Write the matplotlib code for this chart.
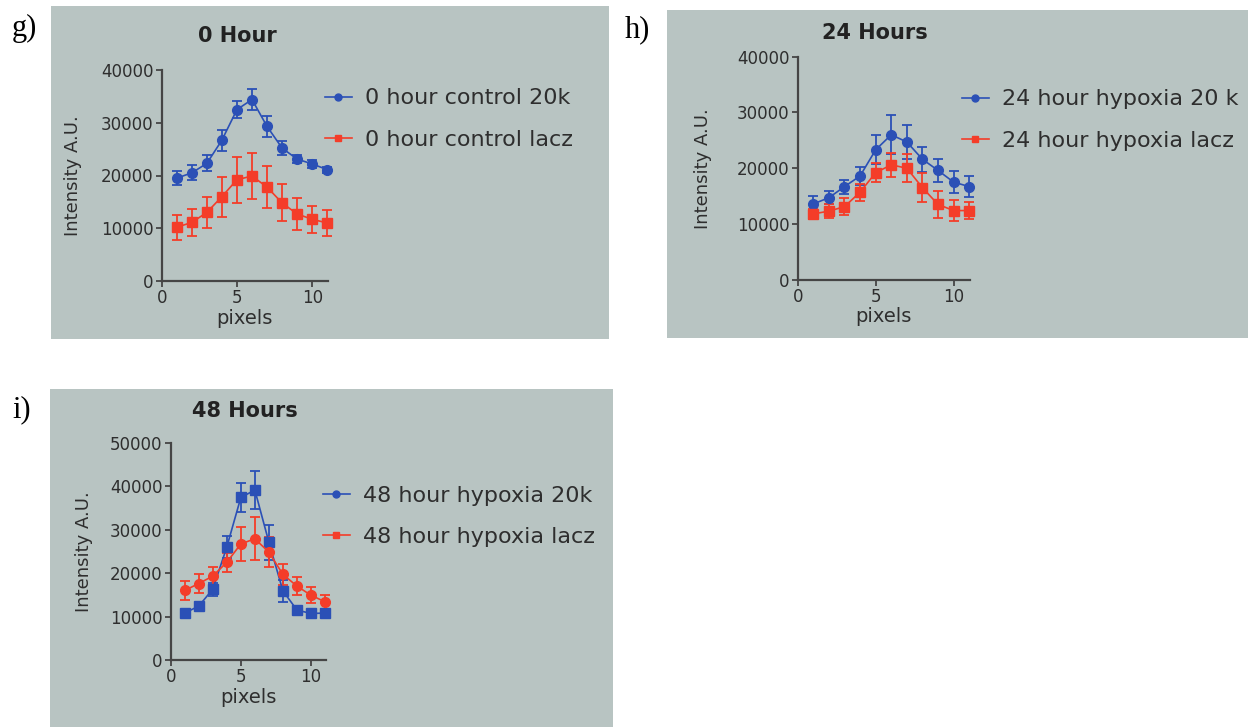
import matplotlib
matplotlib.use("Agg")
import matplotlib.pyplot as plt
from matplotlib.patches import Rectangle
from matplotlib.lines import Line2D

W, H = 1248, 727

pixels = [1, 2, 3, 4, 5, 6, 7, 8, 9, 10, 11]

# 0 hour
g_blue = [19500, 20500, 22300, 26700, 32500, 34400, 29300, 25200, 23100, 22200, 21100]
g_blue_err = [1300, 1400, 1500, 2000, 1600, 2000, 2000, 1400, 700, 800, 600]
g_red = [10200, 11100, 13000, 16000, 19200, 19900, 17800, 14800, 12700, 11700, 11000]
g_red_err = [2400, 2600, 3000, 3800, 4400, 4400, 4000, 3500, 3000, 2600, 2400]

# 24 hours
h_blue = [13600, 14700, 16700, 18600, 23300, 26000, 24700, 21600, 19600, 17500, 16700]
h_blue_err = [1350, 1200, 1250, 1600, 2600, 3500, 3000, 2200, 2000, 1950, 1900]
h_red = [11800, 12300, 13100, 15700, 19200, 20600, 20000, 16500, 13500, 12400, 12400]
h_red_err = [900, 1250, 1500, 1550, 1700, 2200, 2500, 2600, 2400, 1900, 1500]

# 48 hours
i_blue = [10800, 12400, 16300, 26000, 37400, 39100, 27100, 15900, 11500, 10700, 10800]
i_blue_err = [300, 500, 1500, 2500, 3400, 4300, 4000, 2500, 1000, 400, 400]
i_red = [16000, 17600, 19300, 22500, 26700, 27900, 24800, 19700, 17000, 14900, 13400]
i_red_err = [2200, 2100, 2000, 2200, 3900, 4900, 3400, 2500, 2000, 1800, 1600]

BG = "#b8c4c2"
BLUE = "#2b50b6"
RED = "#f43d29"
AX = "#454545"
TXT = "#2e2e2e"


def fx(px):
    return px / W


def fy(py):
    return 1 - py / H


fig = plt.figure(figsize=(W / 100, H / 100), dpi=100)
fig.patch.set_facecolor("white")


def panel(box, axbox, ymax, ystep, title, tpos, label, lpos, ylab_x,
          series, leg_labels, leg_markers, leg_pos):
    x0, y0, x1, y1 = box
    fig.patches.append(Rectangle((fx(x0), fy(y1)), fx(x1 - x0), (y1 - y0) / H,
                                 transform=fig.transFigure, facecolor=BG,
                                 edgecolor="none", zorder=-5))
    l, t, r, b = axbox
    ax = fig.add_axes([fx(l), fy(b), fx(r - l), (b - t) / H])
    ax.set_zorder(2)
    ax.patch.set_alpha(0)
    for y, err, col, mk, ms in series:
        ax.errorbar(pixels, y, yerr=err, color=col, marker=mk, ms=ms,
                    lw=1.2, elinewidth=1.3, capsize=3.5, capthick=1.3,
                    clip_on=False, zorder=3)
    ax.set_xlim(0, 11.05)
    ax.set_ylim(0, ymax)
    ax.set_xticks([0, 5, 10])
    ax.set_yticks(range(0, ymax + 1, ystep))
    for s in ["top", "right"]:
        ax.spines[s].set_visible(False)
    for s in ["left", "bottom"]:
        ax.spines[s].set_color(AX)
        ax.spines[s].set_linewidth(1.6)
    ax.tick_params(colors=AX, labelcolor=TXT, labelsize=12, length=4,
                   width=1.3, pad=2)
    ax.set_xlabel("pixels", fontsize=14, color=TXT, labelpad=1)
    ax.set_ylabel("Intensity A.U.", fontsize=13, color=TXT)
    ax.yaxis.set_label_coords(fx(ylab_x), fy((t + b) / 2),
                              transform=fig.transFigure)
    fig.text(fx(tpos[0]), fy(tpos[1]), title, ha="center", va="baseline",
             fontsize=15, fontweight="bold", color="#222222")
    fig.text(fx(lpos[0]), fy(lpos[1]), label, ha="left", va="baseline",
             fontsize=22, family="Liberation Serif", color="black")
    handles = [Line2D([0], [0], color=c, marker=m, ms=5, lw=1.2)
               for c, m in zip([BLUE, RED], leg_markers)]
    ax.legend(handles, leg_labels, loc="center left",
              bbox_to_anchor=(fx(leg_pos[0]), fy(leg_pos[1])),
              bbox_transform=fig.transFigure, frameon=False, fontsize=16,
              labelcolor=TXT, handlelength=1.2, handletextpad=0.6,
              labelspacing=0.95, borderpad=0, borderaxespad=0)
    return ax


panel((51, 6, 609, 339), (161.7, 70, 328, 281), 40000, 10000,
      "0 Hour", (237, 42), "g)", (12, 36), 82,
      [(g_blue, g_blue_err, BLUE, "o", 7), (g_red, g_red_err, RED, "s", 6.5)],
      ["0 hour control 20k", "0 hour control lacz"], ["o", "s"], (325, 119))

panel((667, 10, 1248, 338), (797.7, 56.7, 970, 279.7), 40000, 10000,
      "24 Hours", (875, 39), "h)", (625, 37), 712,
      [(h_blue, h_blue_err, BLUE, "o", 7), (h_red, h_red_err, RED, "s", 6.5)],
      ["24 hour hypoxia 20 k", "24 hour hypoxia lacz"], ["o", "s"], (962, 120))

panel((50, 389, 613, 727), (170.7, 442.7, 325.7, 660), 50000, 10000,
      "48 Hours", (245, 417), "i)", (12, 417), 93,
      [(i_blue, i_blue_err, BLUE, "s", 6.5), (i_red, i_red_err, RED, "o", 7)],
      ["48 hour hypoxia 20k", "48 hour hypoxia lacz"], ["o", "s"], (323, 516.5))

fig.savefig("out.png", dpi=100)
